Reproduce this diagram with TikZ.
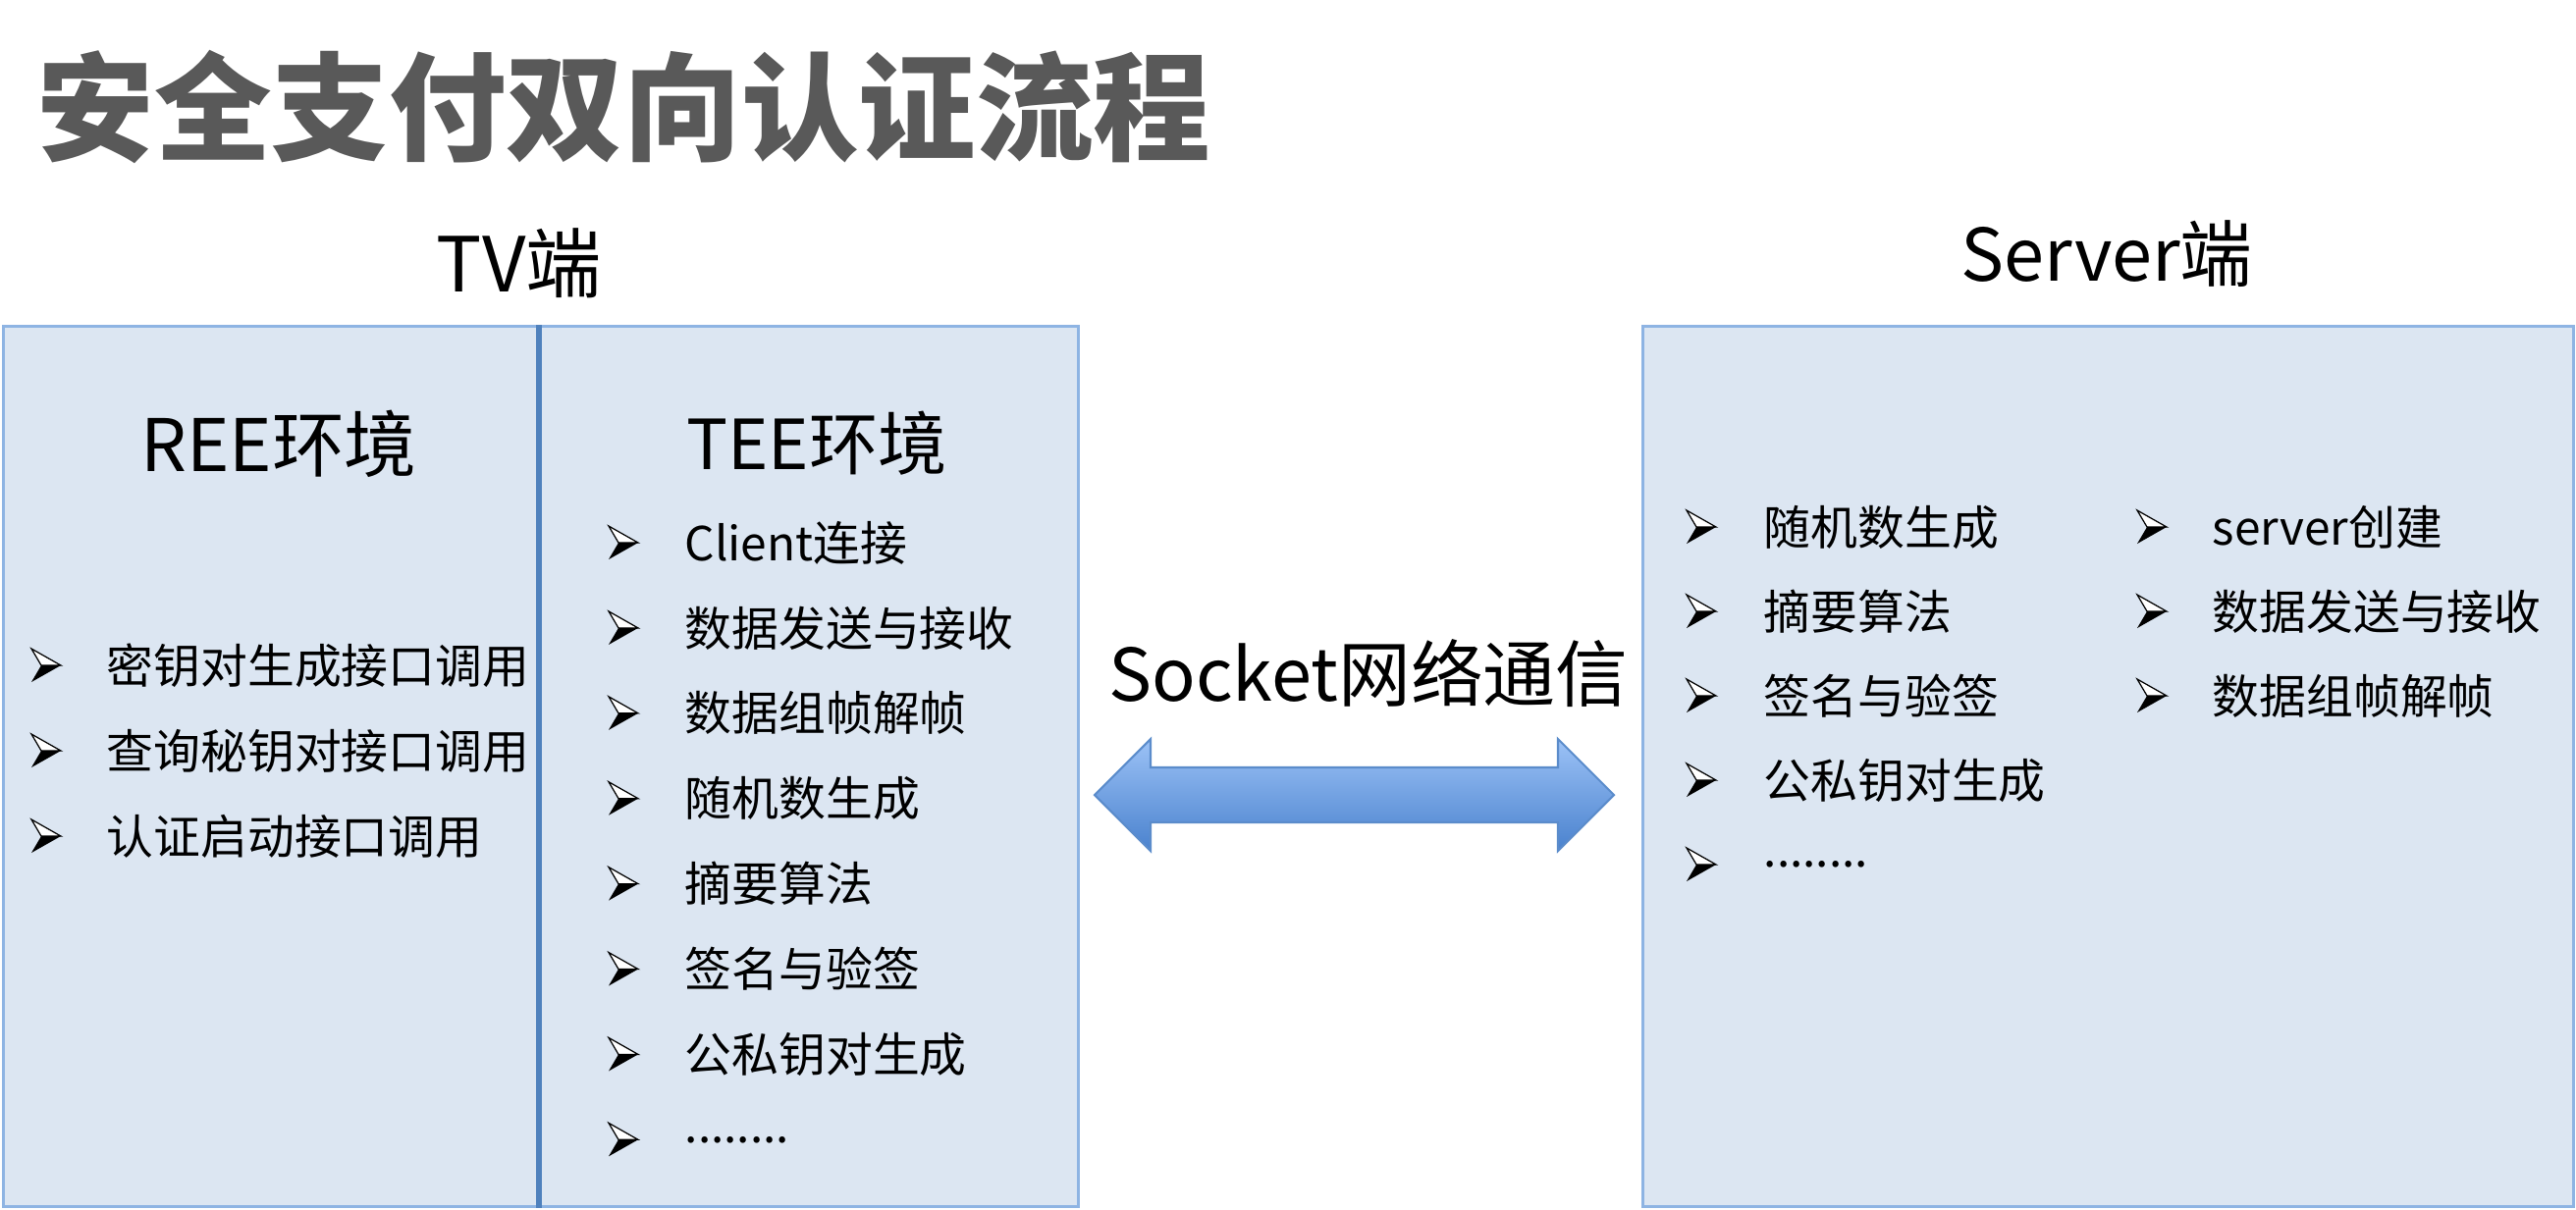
\documentclass[tikz,border=0pt]{standalone}
\usepackage{fontspec}
\setmainfont{Noto Sans CJK SC}
\usetikzlibrary{calc}
\definecolor{PanelFill}{HTML}{DCE6F2}
\definecolor{PanelLine}{HTML}{8EB4E3}
\definecolor{DivLine}{HTML}{4F81BD}
\definecolor{ArrTop}{HTML}{9CC2F6}
\definecolor{ArrBot}{HTML}{4A82CE}
\definecolor{ArrLine}{HTML}{5B8CCB}
\definecolor{TitleGray}{HTML}{595959}
\newcommand{\moredots}{........}
\tikzset{
    panel/.style = {draw=PanelLine, fill=PanelFill, line width=0.85pt,
        rectangle, anchor=north west, inner sep=0pt},
    divider/.style = {draw=DivLine, line width=1.6pt},
    head/.style = {inner sep=0pt, font=\fontsize{22}{26}\selectfont},
    item/.style = {anchor=west, inner sep=0pt, font=\fontsize{13.6}{16}\selectfont},
    arrowshape/.style = {draw=ArrLine, line width=0.6pt, top color=ArrTop, bottom color=ArrBot},
    pics/bul/.style = {code={
        \filldraw[fill=white, draw=black, line width=0.35pt] (0,-17) -- (30,0) -- (10,0) -- cycle;
        \fill[black] (10,0) -- (30,0) -- (0,17) -- cycle;
    }}
}

\begin{document}
\begin{tikzpicture}[x=0.01cm, y=-0.01cm]
    \useasboundingbox (0,0) rectangle (2624,1232);
    % title
    \node[anchor=west, inner sep=0pt, text=TitleGray, font=\fontsize{34}{40}\selectfont\bfseries] (title) at (37,109) {安全支付双向认证流程};
    % panels
    \node[panel, minimum width=10.94cm, minimum height=8.96cm] (tv) at (2,331) {};
    \node[panel, minimum width=9.47cm, minimum height=8.96cm] (srv) at (1672,331) {};
    \coordinate (split) at (549,0);
    \draw[divider] (tv.north -| split) -- (tv.south -| split);
    \node[head] (tvlabel) at (529,268) {TV端};
    \node[head, font=\fontsize{21}{25}\selectfont] (srvlabel) at (2146,259) {Server端};
    \node[head, font=\fontsize{21}{25}\selectfont] (ree) at (284,452) {REE环境};
    \node[head, font=\fontsize{20}{24}\selectfont] (tee) at (832,452) {TEE环境};
    % REE list
    \foreach \t [count=\i] in {密钥对生成接口调用, 查询秘钥对接口调用, 认证启动接口调用} {
        \node[item] (ree\i) at (108, 678+87*\i-87) {\t};
        \pic at (32, 678+87*\i-87) {bul};
    }
    % TEE list
    \foreach \t [count=\i] in {Client连接, 数据发送与接收, 数据组帧解帧, 随机数生成, 摘要算法, 签名与验签, 公私钥对生成, \moredots} {
        \node[item] (tee\i) at (697, 553+86.9*\i-86.9) {\t};
        \pic at (620, 553+86.9*\i-86.9) {bul};
    }
    % server lists
    \foreach \t [count=\i] in {随机数生成, 摘要算法, 签名与验签, 公私钥对生成, \moredots} {
        \node[item] (sa\i) at (1796, 537+86*\i-86) {\t};
        \pic at (1718, 537+86*\i-86) {bul};
    }
    \foreach \t [count=\i] in {server创建, 数据发送与接收, 数据组帧解帧} {
        \node[item] (sb\i) at (2253, 537+86*\i-86) {\t};
        \pic at (2177, 537+86*\i-86) {bul};
    }
    % socket link
    \node[head, font=\fontsize{21}{25}\selectfont] (sock) at (1394,686) {Socket网络通信};
    \coordinate (al) at (1115,810);
    \coordinate (ar) at (1644,810);
    \draw[arrowshape] (al) -- ++(57,-57) -- ++(0,29) -- ++(415,0) -- ++(0,-29) -- (ar)
        -- ++(-57,57) -- ++(0,-29) -- ++(-415,0) -- ++(0,29) -- cycle;
\end{tikzpicture}
\end{document}
